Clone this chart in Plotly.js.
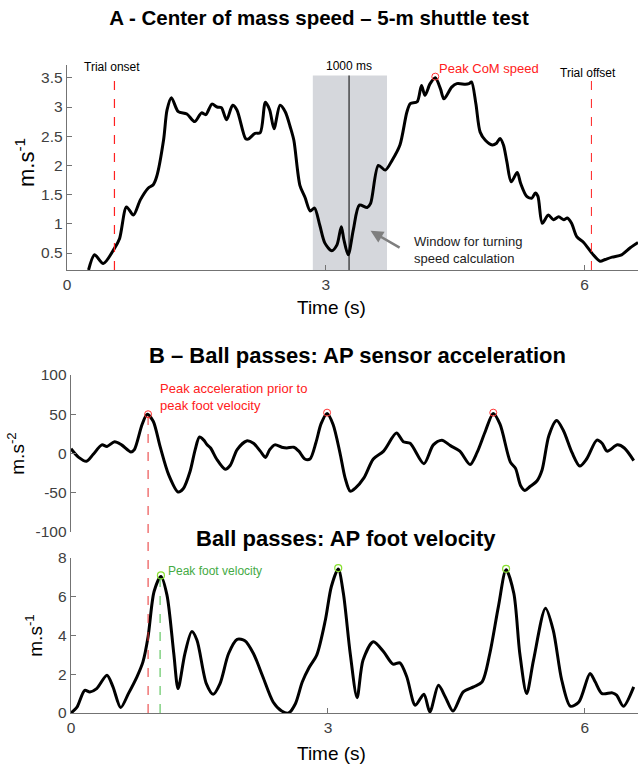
<!DOCTYPE html>
<html>
<head>
<meta charset="utf-8">
<script src="https://cdn.plot.ly/plotly-3.0.1.min.js"></script>
<style>html,body{margin:0;padding:0;background:#fff;}#chart{width:638px;height:767px;}</style>
</head>
<body>
<div id="chart"></div>
<script>
// ---- Panel A: centre of mass speed ----
const comTime = [0.25,0.32,0.42,0.55,0.61,0.69,0.77,0.85,0.94,1.0,1.04,1.12,1.16,1.21,1.29,1.39,1.48,1.56,1.61,1.68,1.74,1.79,1.85,1.92,1.97,2.07,2.1,2.18,2.24,2.3,2.35,2.4,2.47,2.53,2.59,2.63,2.7,2.76,2.82,2.87,2.93,2.99,3.07,3.13,3.18,3.21,3.26,3.32,3.39,3.48,3.52,3.61,3.69,3.77,3.86,3.94,3.98,4.06,4.11,4.15,4.21,4.27,4.33,4.37,4.46,4.52,4.62,4.66,4.69,4.74,4.79,4.85,4.93,4.98,5.02,5.06,5.1,5.15,5.22,5.26,5.33,5.39,5.43,5.46,5.51,5.58,5.64,5.7,5.76,5.8,5.85,5.91,5.99,6.09,6.18,6.24,6.32,6.43,6.53,6.62];
const comSpeed = [0.21,0.47,0.32,0.58,0.75,1.29,1.15,1.41,1.61,1.67,1.81,2.44,2.95,3.16,2.92,2.88,2.75,2.9,2.87,3.05,3.0,2.99,2.78,3.03,2.95,2.46,2.45,2.55,2.56,3.08,2.95,2.63,3.03,2.92,2.65,2.43,1.66,1.45,1.22,1.27,0.98,0.67,0.54,0.64,0.95,0.73,0.47,0.9,1.32,1.28,1.35,2.0,1.92,2.09,2.35,2.91,3.06,3.09,3.37,3.2,3.4,3.5,3.31,3.14,3.34,3.4,3.39,3.4,3.43,3.06,2.57,2.43,2.35,2.38,2.46,2.35,2.06,1.72,1.88,1.69,1.47,1.44,1.53,1.47,1.01,1.15,1.07,1.12,1.07,1.1,1.01,0.78,0.68,0.49,0.36,0.39,0.43,0.47,0.59,0.68];
const comPeak = {t: [4.27], v: [3.52]};
const trialOnset = 0.55, trialOffset = 6.08;
const windowStart = 2.85, windowEnd = 3.71, windowCentre = 3.27;
const comTicksX = [0, 3, 6];
const comTicksY = [0.5, 1, 1.5, 2, 2.5, 3, 3.5];

// ---- Panel B: AP sensor acceleration ----
const accTime = [0,0.09,0.18,0.26,0.36,0.42,0.51,0.59,0.7,0.74,0.83,0.89,0.96,1.04,1.14,1.25,1.31,1.39,1.45,1.5,1.55,1.59,1.63,1.7,1.8,1.86,1.94,2.05,2.13,2.21,2.27,2.32,2.38,2.46,2.52,2.6,2.66,2.73,2.79,2.86,2.92,2.99,3.06,3.14,3.2,3.26,3.32,3.42,3.53,3.65,3.8,3.88,3.96,4.12,4.23,4.33,4.43,4.54,4.66,4.74,4.84,4.93,5.01,5.13,5.19,5.25,5.3,5.36,5.44,5.5,5.58,5.67,5.75,5.85,5.94,6.02,6.14,6.2,6.26,6.38,6.46,6.57];
const accVal = [6,-5,-10,-1,11,9,15,11,2,5,37,50,41,9,-27,-49,-45,-23,5,21,17,11,7,-7,-20,-15,5,16,13,3,-5,5,11,8,7,8,3,-7,-7,14,38,51,37,1,-31,-48,-44,-31,-7,3,26,15,13,-13,11,17,10,3,-14,1,29,51,37,-11,-19,-41,-47,-42,-35,-21,23,42,29,1,-16,-7,17,13,3,11,7,-9];
const accPeaks = {t: [0.9, 2.99, 4.93], v: [50, 52, 52]};
const accTicksY = [-100, -50, 0, 50, 100];
const accTickText = ['-100', '-50', '0', '50', '100'];

// ---- Panel B: AP foot velocity ----
const velTime = [0,0.07,0.16,0.22,0.3,0.42,0.49,0.58,0.67,0.77,0.84,0.9,0.97,1.05,1.12,1.2,1.25,1.33,1.41,1.47,1.58,1.66,1.74,1.84,1.94,2.03,2.13,2.24,2.36,2.46,2.54,2.62,2.7,2.78,2.87,2.97,3.04,3.12,3.18,3.26,3.34,3.41,3.53,3.65,3.76,3.84,3.92,4.02,4.12,4.19,4.29,4.37,4.46,4.58,4.7,4.8,4.89,4.99,5.08,5.17,5.24,5.32,5.4,5.54,5.63,5.73,5.83,5.93,6.06,6.12,6.2,6.32,6.37,6.45,6.57];
const velVal = [0,0.3,1.17,1.09,1.26,1.95,1.35,0.28,1.0,1.87,2.64,3.94,6.27,7.05,6.1,3.07,1.26,3.07,4.2,3.77,1.52,0.97,1.52,3.07,3.8,3.73,3.07,1.87,0.57,0.1,0,0.48,1.6,2.35,3.0,4.8,6.53,7.43,6.18,3.07,0.79,2.73,3.68,3.16,2.52,2.59,1.87,0.4,0.97,0.05,1.43,0.83,0.1,1.09,1.35,1.61,3.07,5.49,7.39,6.18,3.07,1.0,2.73,5.41,4.28,1.69,0.35,0.57,2.04,1.61,1.0,1.04,0.92,0.35,1.35];
const velPeaks = {t: [1.05, 3.12, 5.08], v: [7.1, 7.48, 7.44]};
const velTicksY = [0, 2, 4, 6, 8];
const bTicksX = [0, 3, 6];

const FONT = 'Liberation Sans, Arial, sans-serif';
const AXC = '#737373';
const TXC = '#404040';

// domains (paper)
const domA = [0.648, 0.9153];
const domAcc = [0.3064, 0.5111];
const domVel = [0.0704, 0.2725];
const rangeX = [0, 6.62];
const rangeAcc = [-100, 100];
const rangeVel = [0, 8];

const lineStyle = {color: '#000', width: 3, shape: 'spline', smoothing: 0.8};

const traces = [
  {x: comTime, y: comSpeed, xaxis: 'x', yaxis: 'y', mode: 'lines', line: lineStyle, hoverinfo: 'skip'},
  {x: comPeak.t, y: comPeak.v, xaxis: 'x', yaxis: 'y', mode: 'markers', marker: {symbol: 'circle-open', size: 7, color: '#ff3333', line: {width: 1}}, cliponaxis: false},
  {x: accTime, y: accVal, xaxis: 'x2', yaxis: 'y2', mode: 'lines', line: lineStyle},
  {x: accPeaks.t, y: accPeaks.v, xaxis: 'x2', yaxis: 'y2', mode: 'markers', marker: {symbol: 'circle-open', size: 7, color: '#ff3333', line: {width: 1}}},
  {x: velTime, y: velVal, xaxis: 'x3', yaxis: 'y3', mode: 'lines', line: lineStyle},
  {x: velPeaks.t, y: velPeaks.v, xaxis: 'x3', yaxis: 'y3', mode: 'markers', marker: {symbol: 'circle-open', size: 7, color: '#88e030', line: {width: 1.2}}}
];

function axisBase() {
  return {
    showline: true, linecolor: AXC, linewidth: 1.3, ticks: 'inside', ticklen: 5, tickcolor: AXC,
    showgrid: false, zeroline: false, tickfont: {family: FONT, size: 15.5, color: TXC}
  };
}

// paper y of acceleration peak (via the acceleration axis scale)
const accPeakPaper = domAcc[0] + (accPeaks.v[0] - rangeAcc[0]) / (rangeAcc[1] - rangeAcc[0]) * (domAcc[1] - domAcc[0]);

function paperLabel(px, py, text, size, extra) {
  return Object.assign({xref: 'paper', yref: 'paper', x: px / 638, y: 1 - py / 767, xanchor: 'center', yanchor: 'middle',
    text: text, showarrow: false, font: {family: FONT, size: size, color: '#000'}}, extra || {});
}

const layout = {
  width: 638, height: 767,
  margin: {l: 0, r: 0, t: 0, b: 0},
  paper_bgcolor: '#fff', plot_bgcolor: 'rgba(0,0,0,0)',
  showlegend: false,
  font: {family: FONT, color: TXC},
  title: {text: '<b>A - Center of mass speed – 5-m shuttle test</b>', x: 319/638, xanchor: 'center', xref: 'paper', y: 1 - 18/767, yanchor: 'middle', font: {family: FONT, size: 20.5, color: '#000'}},
  xaxis: Object.assign(axisBase(), {domain: [67/638, 1], range: rangeX, tickvals: comTicksX, anchor: 'y'}),
  yaxis: Object.assign(axisBase(), {domain: domA, range: [0.21, 3.72], tickvals: comTicksY, anchor: 'x'}),
  xaxis2: {domain: [71/638, 1], range: rangeX, anchor: 'y2', visible: false, showgrid: false, zeroline: false},
  yaxis2: Object.assign(axisBase(), {domain: domAcc, range: rangeAcc, tickvals: accTicksY, ticktext: accTickText, anchor: 'x2',
    title: {text: 'm.s<sup>-2</sup>', font: {family: FONT, size: 19, color: '#000'}, standoff: 6}}),
  xaxis3: Object.assign(axisBase(), {domain: [71/638, 1], range: rangeX, tickvals: bTicksX, anchor: 'y3'}),
  yaxis3: Object.assign(axisBase(), {domain: domVel, range: rangeVel, tickvals: velTicksY, anchor: 'x3',
    title: {text: 'm.s<sup>-1</sup>', font: {family: FONT, size: 19, color: '#000'}, standoff: 10}}),
  shapes: [
    {type: 'rect', xref: 'x', yref: 'y', x0: windowStart, x1: windowEnd, y0: 0.21, y1: 3.54, fillcolor: '#d5d7dc', line: {width: 0}, layer: 'below'},
    {type: 'line', xref: 'x', yref: 'y', x0: windowCentre, x1: windowCentre, y0: 0.21, y1: 3.54, line: {color: '#000', width: 1}},
    {type: 'line', xref: 'x', yref: 'y', x0: trialOnset, x1: trialOnset, y0: 0.21, y1: 3.5, line: {color: '#ff2020', width: 1.2, dash: 'dash'}},
    {type: 'line', xref: 'x', yref: 'y', x0: trialOffset, x1: trialOffset, y0: 0.21, y1: 3.52, line: {color: '#ff2020', width: 1, dash: 'dash'}},
    {type: 'line', xref: 'x2', yref: 'paper', x0: accPeaks.t[0], x1: accPeaks.t[0], y0: domVel[0], y1: accPeakPaper, line: {color: '#e83030', width: 1, dash: 'dash'}},
    {type: 'line', xref: 'x3', yref: 'y3', x0: velPeaks.t[0] - 0.01, x1: velPeaks.t[0] - 0.01, y0: 0, y1: velPeaks.v[0], line: {color: '#44bb44', width: 1, dash: 'dash'}}
  ],
  annotations: [
    // axis titles
    paperLabel(25, 163, 'm.s<sup>-1</sup>', 22, {textangle: -90}),
    paperLabel(331.5, 308, 'Time (s)', 19),
    paperLabel(331.5, 753, 'Time (s)', 19),
    // panel A labels
    {xref: 'x', yref: 'y', x: 0.52, y: 3.69, text: 'Trial onset', showarrow: false, font: {family: FONT, size: 12, color: '#000'}},
    {xref: 'x', yref: 'y', x: windowCentre, y: 3.71, text: '1000 ms', showarrow: false, font: {family: FONT, size: 12, color: '#000'}},
    {xref: 'x', yref: 'y', x: 4.29, y: 3.66, xanchor: 'left', text: 'Peak CoM speed', showarrow: false, font: {family: FONT, size: 13, color: '#ff2020'}},
    {xref: 'x', yref: 'y', x: 6.04, y: 3.59, text: 'Trial offset', showarrow: false, font: {family: FONT, size: 12, color: '#000'}},
    {xref: 'x', yref: 'y', x: 4.0, y: 0.55, xanchor: 'left', align: 'left', text: 'Window for turning<br>speed calculation', showarrow: false, font: {family: FONT, size: 13, color: '#222'}},
    {xref: 'x', yref: 'y', x: 3.52, y: 0.88, axref: 'pixel', ayref: 'pixel', text: ' ', showarrow: true, arrowhead: 2, arrowsize: 1, arrowwidth: 2.5, arrowcolor: '#7f7f7f', ax: 31, ay: 18, standoff: 0, font: {size: 2}},
    // panel B labels
    paperLabel(357.5, 355, '<b>B – Ball passes: AP sensor acceleration</b>', 22),
    {xref: 'x2', yref: 'y2', x: 1.01, y: 72, xanchor: 'left', align: 'left', text: 'Peak acceleration prior to<br>peak foot velocity', showarrow: false, font: {family: FONT, size: 13, color: '#ff2020'}},
    paperLabel(345.5, 538, '<b>Ball passes: AP foot velocity</b>', 22),
    {xref: 'x3', yref: 'y3', x: 1.11, y: 7.34, xanchor: 'left', text: 'Peak foot velocity', showarrow: false, font: {family: FONT, size: 12, color: '#44aa44'}}
  ]
};

Plotly.newPlot('chart', traces, layout, {staticPlot: true, displayModeBar: false});
</script>
</body>
</html>
